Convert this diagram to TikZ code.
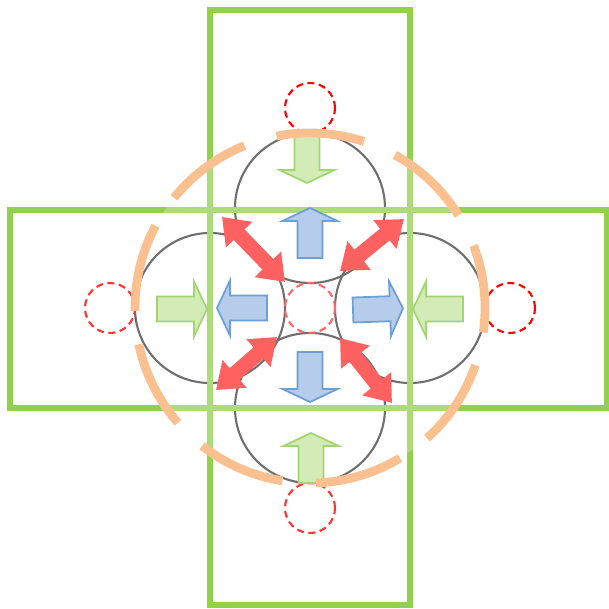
\documentclass[tikz,border=0pt]{standalone}
\usetikzlibrary{arrows.meta}
\definecolor{boxgreen}{HTML}{92D050}
\definecolor{ringorange}{HTML}{FAC090}
\definecolor{cellgray}{HTML}{404040}
\definecolor{ingreen}{HTML}{D3EBB7}
\definecolor{ingreenline}{HTML}{A2D672}
\definecolor{outblue}{HTML}{B5CDEB}
\definecolor{outblueline}{HTML}{6A9FD9}
\definecolor{pushred}{HTML}{FF6161}
\begin{document}
\begin{tikzpicture}[x=1cm,y=1cm,
  box/.style={draw=boxgreen,line width=1.5pt},
  cell/.style={draw=cellgray,line width=.6pt},
  site/.style={line width=.6pt,dash pattern=on 2pt off 1.3pt},
  inarrow/.style={fill=ingreen,draw=ingreenline,line width=.5pt},
  outarrow/.style={fill=outblue,draw=outblueline,line width=.5pt},
  pusharrow/.style={draw=pushred,line width=4.3pt,{Triangle[width=10pt,length=7pt]}-{Triangle[width=10pt,length=7pt]}},
  ring/.style={draw=ringorange,line width=2.5pt,dash pattern=on 25.2pt off 9.56pt}]
\useasboundingbox(-3.1,-3.01)rectangle(2.98,3.08);
% cells and frames
\foreach \x/\y in {0/1,-1/0,1/0,0/-1}\draw[cell](\x,\y)circle(.75);
\draw[box](-1,-2.97)rectangle(1,2.98);
\draw[box](-3,-1)rectangle(2.97,.98);
\fill[white,fill opacity=.25](0,0)circle(1.75);
% sites
\foreach \x/\y/\c in {0/2/red,2/0/red,-2/0/red!80!white,0/-2/red!80!white,0/0/red!60!white}
  \draw[site,draw=\c](\x,\y)circle(.25);
% block arrows
\foreach \x/\y/\a in {-.03/1.75/-90,-1.53/-.01/0,1.53/-.01/180,.01/-1.75/90}
  \draw[inarrow,shift={(\x,\y)},rotate=\a](0,-.125)--(.37,-.125)--(.37,-.275)--(.5,0)--(.37,.275)--(.37,.125)--(0,.125)--cycle;
\foreach \x/\y/\a in {0/.5/90,0/-.44/-90,-.43/0/180,.43/-.02/2}
  \draw[outarrow,shift={(\x,\y)},rotate=\a](0,-.125)--(.37,-.125)--(.37,-.275)--(.5,0)--(.37,.275)--(.37,.125)--(0,.125)--cycle;
\draw[pusharrow](-.88,.91)--(-.25,.26);
\draw[pusharrow](.94,.89)--(.30,.37);
\draw[pusharrow](-.94,-.82)--(-.33,-.29);
\draw[pusharrow](.30,-.30)--(.82,-.95);
% ring
\draw[ring](32:1.75)arc[start angle=32,end angle=392,radius=1.75];
\end{tikzpicture}
\end{document}
